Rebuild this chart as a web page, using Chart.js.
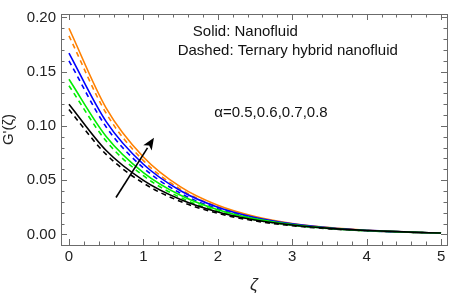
<!DOCTYPE html>
<html>
<head>
<meta charset="utf-8">
<script src="https://cdn.jsdelivr.net/npm/chart.js@4.4.1/dist/chart.umd.min.js"></script>
<style>
html,body{margin:0;padding:0;background:#fff;}
#wrap{width:450px;height:295px;position:relative;}
</style>
</head>
<body>
<div id="wrap"><canvas id="c" width="450" height="295"></canvas></div>
<script>
// ---- data ----
const zeta = [0, 0.5, 1, 1.5, 2, 2.5, 3, 3.5, 4, 4.5, 5];
const alphaValues = ['0.5', '0.6', '0.7', '0.8'];
// Solid: Nanofluid
const nfA05 = [0.120, 0.0773, 0.0498, 0.0321, 0.0206, 0.0133, 0.0086, 0.0055, 0.0036, 0.0023, 0.0012];
const nfA06 = [0.143, 0.0903, 0.0570, 0.0360, 0.0227, 0.0143, 0.0091, 0.0057, 0.0036, 0.0023, 0.0012];
const nfA07 = [0.167, 0.1039, 0.0646, 0.0402, 0.0250, 0.0155, 0.0097, 0.0060, 0.0037, 0.0023, 0.0012];
const nfA08 = [0.190, 0.1164, 0.0713, 0.0437, 0.0268, 0.0164, 0.0100, 0.0062, 0.0038, 0.0023, 0.0012];
// Dashed: Ternary hybrid nanofluid
const thA05 = [0.115, 0.0737, 0.0472, 0.0303, 0.0194, 0.0124, 0.0080, 0.0051, 0.0033, 0.0021, 0.0011];
const thA06 = [0.137, 0.0860, 0.0541, 0.0339, 0.0213, 0.0134, 0.0084, 0.0053, 0.0033, 0.0021, 0.0011];
const thA07 = [0.160, 0.0990, 0.0613, 0.0379, 0.0235, 0.0145, 0.0090, 0.0056, 0.0034, 0.0021, 0.0011];
const thA08 = [0.183, 0.1116, 0.0680, 0.0415, 0.0253, 0.0154, 0.0094, 0.0057, 0.0035, 0.0021, 0.0011];
const xTickLabels = ['0', '1', '2', '3', '4', '5'];
const yTickLabels = ['0.00', '0.05', '0.10', '0.15', '0.20'];
const noteSolid = 'Solid: Nanofluid';
const noteDashed = 'Dashed: Ternary hybrid nanofluid';
const noteAlpha = 'α=' + alphaValues.join(',');
const arrowFrom = {x: 0.632, y: 0.034};
const arrowTo = {x: 1.142, y: 0.089};

const colors = ['#000000', '#00ee00', '#0000ff', '#ff8000'];
const FONT = '"Liberation Sans", Arial, sans-serif';

function pts(arr){ return zeta.map((z,i)=>({x:z, y:arr[i]})); }
const solid = [nfA05, nfA06, nfA07, nfA08];
const dashed = [thA05, thA06, thA07, thA08];
const datasets = [];
solid.forEach((s,i)=>datasets.push({label:'Nanofluid α='+alphaValues[i], data:pts(s), borderColor:colors[i], borderWidth:1.6, pointRadius:0, cubicInterpolationMode:'monotone', fill:false}));
dashed.forEach((s,i)=>datasets.push({label:'Ternary hybrid nanofluid α='+alphaValues[i], data:pts(s), borderColor:colors[i], borderWidth:1.6, borderDash:[5,4], pointRadius:0, cubicInterpolationMode:'monotone', fill:false}));

const frameColor = '#6b6b6b';

const framePlugin = {
  id:'frame',
  afterDraw(chart){
    const {ctx, chartArea:a, scales:{x, y}} = chart;
    ctx.save();
    ctx.strokeStyle = frameColor;
    ctx.lineWidth = 1;
    ctx.strokeRect(Math.round(a.left)+0.5, Math.round(a.top)+0.5, Math.round(a.right-a.left), Math.round(a.bottom-a.top));
    ctx.beginPath();
    for (let i=0;i<=25;i++){
      const v = i/5;
      const px = Math.round(x.getPixelForValue(v))+0.5;
      const L = (i%5===0)?6:3.5;
      ctx.moveTo(px, a.bottom); ctx.lineTo(px, a.bottom-L);
      ctx.moveTo(px, a.top); ctx.lineTo(px, a.top+L);
    }
    for (let i=0;i<=20;i++){
      const v = i/100;
      const py = Math.round(y.getPixelForValue(v))+0.5;
      const L = (i%5===0)?6:3.5;
      ctx.moveTo(a.left, py); ctx.lineTo(a.left+L, py);
      ctx.moveTo(a.right, py); ctx.lineTo(a.right-L, py);
    }
    ctx.stroke();
    // annotations
    ctx.fillStyle = '#111';
    ctx.textAlign = 'center';
    ctx.textBaseline = 'middle';
    ctx.font = '15px ' + FONT;
    ctx.fillText(noteSolid, x.getPixelForValue(2.37), y.getPixelForValue(0.1866));
    ctx.fillText(noteDashed, x.getPixelForValue(2.94), y.getPixelForValue(0.1688));
    ctx.fillText(noteAlpha, x.getPixelForValue(2.715), y.getPixelForValue(0.1116));
    // arrow
    const x0 = x.getPixelForValue(arrowFrom.x), y0 = y.getPixelForValue(arrowFrom.y);
    const x1 = x.getPixelForValue(arrowTo.x), y1 = y.getPixelForValue(arrowTo.y);
    const ang = Math.atan2(y1-y0, x1-x0);
    const hl = 12, hw = 5;
    const bx = x1 - hl*Math.cos(ang), by = y1 - hl*Math.sin(ang);
    ctx.strokeStyle = '#000';
    ctx.lineWidth = 1.6;
    ctx.beginPath(); ctx.moveTo(x0,y0); ctx.lineTo(bx,by); ctx.stroke();
    ctx.fillStyle = '#000';
    ctx.beginPath();
    ctx.moveTo(x1,y1);
    ctx.lineTo(bx + hw*Math.sin(ang), by - hw*Math.cos(ang));
    ctx.lineTo(x1 - (hl*0.75)*Math.cos(ang), y1 - (hl*0.75)*Math.sin(ang));
    ctx.lineTo(bx - hw*Math.sin(ang), by + hw*Math.cos(ang));
    ctx.closePath(); ctx.fill();
    ctx.restore();
  }
};

new Chart(document.getElementById('c'), {
  type:'line',
  data:{datasets},
  options:{
    responsive:false,
    animation:false,
    layout:{padding:{top:6, right:3, left:0, bottom:0}},
    plugins:{legend:{display:false}, tooltip:{enabled:false}},
    scales:{
      x:{
        type:'linear', min:-0.107, max:5.08,
        afterBuildTicks(s){ s.ticks = xTickLabels.map(t=>({value:parseFloat(t)})); },
        afterFit(s){ s.height = 50; },
        ticks:{color:'#222', font:{family:FONT, size:15}, padding:3, maxRotation:0, autoSkip:false,
          callback:(v)=>{ const i = xTickLabels.findIndex(t=>Math.abs(parseFloat(t)-v)<1e-6); return i>=0?xTickLabels[i]:''; }},
        grid:{display:false, drawTicks:false},
        border:{display:false},
        title:{display:true, text:'ζ', color:'#222', font:{family:FONT, size:17, style:'italic'}, padding:{top:4, bottom:0}}
      },
      y:{
        type:'linear', min:-0.0098, max:0.2031,
        afterBuildTicks(s){ s.ticks = yTickLabels.map(t=>({value:parseFloat(t)})); },
        afterFit(s){ s.width = 61; },
        ticks:{color:'#222', font:{family:FONT, size:15}, padding:5, autoSkip:false,
          callback:(v)=>{ const i = yTickLabels.findIndex(t=>Math.abs(parseFloat(t)-v)<1e-6); return i>=0?yTickLabels[i]:''; }},
        grid:{display:false, drawTicks:false},
        border:{display:false},
        title:{display:true, text:"G'(ζ)", color:'#222', font:{family:FONT, size:15}, padding:{top:0, bottom:1}}
      }
    }
  },
  plugins:[framePlugin]
});
</script>
</body>
</html>
